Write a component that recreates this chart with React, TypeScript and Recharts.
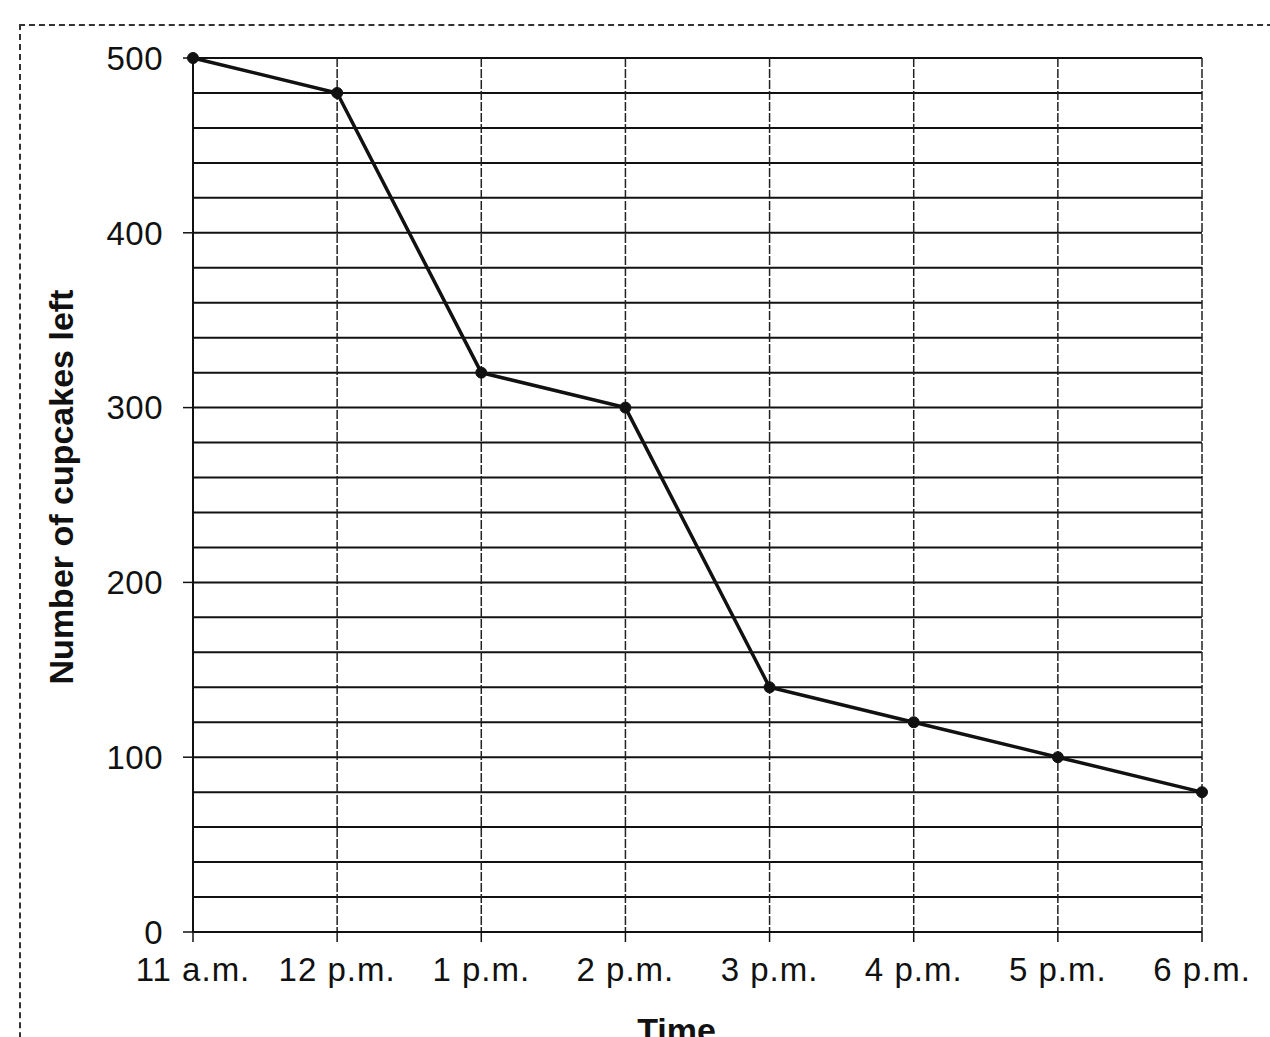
import { LineChart, Line, XAxis, YAxis, CartesianGrid } from "recharts";

const times = ["11 a.m.", "12 p.m.", "1 p.m.", "2 p.m.", "3 p.m.", "4 p.m.", "5 p.m.", "6 p.m."];
const cupcakesLeft = [500, 480, 320, 300, 140, 120, 100, 80];
const yTicks = [0, 100, 200, 300, 400, 500];
const gridValues = [
  0, 20, 40, 60, 80, 100, 120, 140, 160, 180, 200, 220, 240, 260, 280, 300, 320, 340, 360, 380, 400, 420,
  440, 460, 480, 500,
];

const data = times.map((t, i) => ({ time: t, left: cupcakesLeft[i] }));

const FONT = "'Liberation Sans', Arial, sans-serif";

const YTitle = (props: any) => {
  const { viewBox } = props;
  const cx = viewBox.x + 61;
  const cy = viewBox.y + viewBox.height / 2 - 8;
  return (
    <text
      x={cx}
      y={cy}
      transform={`rotate(-90 ${cx} ${cy})`}
      textAnchor="middle"
      dominantBaseline="central"
      fontFamily={FONT}
      fontWeight="bold"
      fontSize={34}
      fill="#111"
    >
      Number of cupcakes left
    </text>
  );
};

export default function App() {
  return (
    <div
      style={{
        position: "absolute",
        left: 0,
        top: 0,
        width: 1270,
        height: 1037,
        overflow: "hidden",
        background: "#fff",
      }}
    >
      {/* scanned page frame */}
      <div
        style={{
          position: "absolute",
          left: 19,
          top: 24,
          width: 1300,
          height: 1100,
          border: "2px dashed #333",
        }}
      />
      <div style={{ position: "absolute", left: 0, top: 0 }}>
        <LineChart width={1270} height={1080} data={data} margin={{ top: 58, right: 68, left: 0, bottom: 28 }}>
          <CartesianGrid horizontalValues={gridValues} vertical={false} stroke="#111" strokeWidth={2} />
          <CartesianGrid horizontal={false} stroke="#222" strokeWidth={1.5} strokeDasharray="9 2" />
          <XAxis
            dataKey="time"
            height={120}
            tickSize={10}
            tickMargin={16}
            axisLine={{ stroke: "#111", strokeWidth: 2 }}
            tickLine={{ stroke: "#111", strokeWidth: 1.5 }}
            tick={{ fill: "#111", fontSize: 33, fontFamily: FONT, letterSpacing: 1 }}
            label={{
              value: "Time",
              position: "insideBottom",
              offset: 10,
              dx: -21,
              fill: "#111",
              fontSize: 34,
              fontWeight: "bold",
              fontFamily: FONT,
            }}
          />
          <YAxis
            width={193}
            domain={[0, 500]}
            ticks={yTicks}
            tickSize={10}
            tickMargin={20}
            axisLine={{ stroke: "#111", strokeWidth: 2 }}
            tickLine={{ stroke: "#111", strokeWidth: 1.5 }}
            tick={{ fill: "#111", fontSize: 33, fontFamily: FONT, letterSpacing: 0.5 }}
            label={<YTitle />}
          />
          <Line
            dataKey="left"
            stroke="#111"
            strokeWidth={3.5}
            dot={{ r: 5.5, fill: "#111", stroke: "#111", strokeWidth: 1 }}
            isAnimationActive={false}
          />
        </LineChart>
      </div>
    </div>
  );
}
